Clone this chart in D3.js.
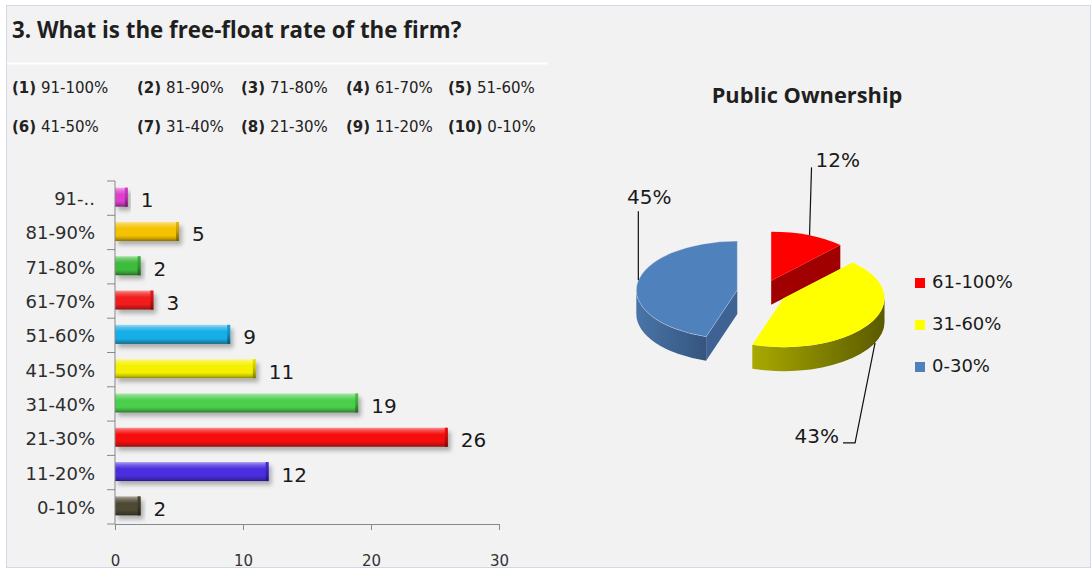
<!DOCTYPE html>
<html>
<head>
<meta charset="utf-8">
<script src="https://cdn.jsdelivr.net/npm/d3@7"></script>
<style>
html, body { margin: 0; padding: 0; background: #fff; }
svg { display: block; }
</style>
</head>
<body>
<svg id="chart" width="1092" height="570"></svg>
<script>
// ----- data ---------------------------------------------------------------
const title = "3. What is the free-float rate of the firm?";
const optionLabels = ["91-100%", "81-90%", "71-80%", "61-70%", "51-60%",
                      "41-50%", "31-40%", "21-30%", "11-20%", "0-10%"];

const categories = ["91-..", "81-90%", "71-80%", "61-70%", "51-60%",
                    "41-50%", "31-40%", "21-30%", "11-20%", "0-10%"];
const counts = [1, 5, 2, 3, 9, 11, 19, 26, 12, 2];
const barColors = ["#dd3fcf", "#f4c200", "#3dbb3d", "#f21c1c", "#19aee6",
                   "#f5f000", "#4ccf4c", "#f51010", "#4b2ee0", "#4d4934"];
const xTicks = [0, 10, 20, 30];

const pieTitle = "Public Ownership";
const pieGroups = ["61-100%", "31-60%", "0-30%"];
const pieShares = [12, 43, 45];
const pieTop = ["#ff0000", "#ffff00", "#4f81bd"];
const pieSide = [["#b00000", "#900000"], ["#a9a900", "#5a5a00"], ["#4a74a8", "#35557f"]];
const pieFace = ["#a00000", "#8c8c00", "#3e6293"];

// ----- setup ----------------------------------------------------------------
const svg = d3.select("#chart");
const defs = svg.append("defs");
const FONT = "'DejaVu Sans', Verdana, sans-serif";
const TITLE_FONT = "'Open Sans', Lato, sans-serif";

const shadow = defs.append("filter").attr("id", "shadow")
    .attr("x", "-10%").attr("y", "-30%").attr("width", "130%").attr("height", "190%");
shadow.append("feDropShadow").attr("dx", 3).attr("dy", 4).attr("stdDeviation", 2)
    .attr("flood-color", "#000").attr("flood-opacity", 0.28);

// panel
svg.append("rect").attr("x", 6.5).attr("y", 5.5).attr("width", 1084).attr("height", 562)
    .attr("fill", "#f2f2f2").attr("stroke", "#d5d7e6");

// title + separator
svg.append("text").attr("x", 12).attr("y", 38)
    .attr("font-family", TITLE_FONT).attr("font-weight", "bold").attr("font-size", 22.3)
    .attr("fill", "#1f1f1f").text(title);
svg.append("line").attr("x1", 7).attr("x2", 548).attr("y1", 63.5).attr("y2", 63.5)
    .attr("stroke", "#fff").attr("stroke-width", 2);

// option key, two rows of five
const optCols = [12, 137, 241, 346, 448];
const optRows = [93, 132];
optionLabels.forEach((o, i) => {
    const t = svg.append("text")
        .attr("x", optCols[i % 5]).attr("y", optRows[Math.floor(i / 5)])
        .attr("font-family", FONT).attr("font-size", 15).attr("fill", "#222");
    t.append("tspan").attr("font-weight", "bold").text(`(${i + 1})`);
    t.append("tspan").text(" " + o);
});

// ----- bar chart ----------------------------------------------------------
const x = d3.scaleLinear().domain([0, 30]).range([115, 499]);
const y = d3.scaleBand().domain(categories).range([181, 524])
    .paddingInner(0.446).paddingOuter(0.223);

const lighten = (c, t) => d3.interpolateRgb(c, "#fff")(t);
const darken = (c, t) => d3.interpolateRgb(c, "#000")(t);

barColors.forEach((c, i) => {
    const g = defs.append("linearGradient").attr("id", "bar" + i)
        .attr("x1", 0).attr("y1", 0).attr("x2", 0).attr("y2", 1);
    [[0, lighten(c, 0.55)], [0.14, lighten(c, 0.25)], [0.35, c], [0.72, c],
     [0.9, darken(c, 0.22)], [1, darken(c, 0.45)]].forEach(([o, col]) =>
        g.append("stop").attr("offset", o).attr("stop-color", col));
    const e = defs.append("linearGradient").attr("id", "cap" + i)
        .attr("x1", 0).attr("y1", 0).attr("x2", 0).attr("y2", 1);
    [[0, darken(c, 0.05)], [0.5, darken(c, 0.2)], [1, darken(c, 0.5)]].forEach(([o, col]) =>
        e.append("stop").attr("offset", o).attr("stop-color", col));
});

const bars = svg.append("g");
const barData = categories.map((c, i) => ({ cat: c, v: counts[i], i }));

bars.selectAll("rect.bar").data(barData).join("rect").attr("class", "bar")
    .attr("x", x(0)).attr("y", d => y(d.cat) - 1)
    .attr("width", d => x(d.v) - x(0)).attr("height", y.bandwidth())
    .attr("fill", d => `url(#bar${d.i})`).attr("filter", "url(#shadow)");

bars.selectAll("rect.cap").data(barData).join("rect").attr("class", "cap")
    .attr("x", d => x(d.v) - 3).attr("y", d => y(d.cat) - 1)
    .attr("width", 3).attr("height", y.bandwidth())
    .attr("fill", d => `url(#cap${d.i})`);

bars.selectAll("text.val").data(barData).join("text").attr("class", "val")
    .attr("x", d => x(d.v) + 13).attr("y", d => y(d.cat) + y.bandwidth() / 2 + 9)
    .attr("font-family", FONT).attr("font-size", 20).attr("fill", "#1a1a1a")
    .text(d => d.v);

// y axis with ticks on the band boundaries
const axisCol = "#888";
const yAxis = svg.append("g");
yAxis.append("line").attr("x1", x(0)).attr("x2", x(0))
    .attr("y1", y.range()[0]).attr("y2", y.range()[1]).attr("stroke", axisCol);
yAxis.selectAll("line.tick").data(d3.range(categories.length + 1)).join("line")
    .attr("class", "tick")
    .attr("x1", x(0) - 8).attr("x2", x(0))
    .attr("y1", k => y.range()[0] + k * y.step()).attr("y2", k => y.range()[0] + k * y.step())
    .attr("stroke", axisCol);
yAxis.selectAll("text").data(categories).join("text")
    .attr("x", 95).attr("y", d => y(d) + y.bandwidth() / 2 + 7)
    .attr("text-anchor", "end").attr("font-family", FONT).attr("font-size", 18)
    .attr("fill", "#2d2d2d").text(d => d);

// x axis
const xAxis = svg.append("g").attr("transform", `translate(0,${y.range()[1]})`)
    .call(d3.axisBottom(x).tickValues(xTicks).tickSizeInner(6).tickSizeOuter(0).tickPadding(25));
xAxis.select(".domain").attr("stroke", axisCol);
xAxis.selectAll(".tick line").attr("stroke", axisCol);
xAxis.selectAll(".tick text").attr("font-family", FONT).attr("font-size", 15).attr("fill", "#333");

// ----- 3D pie -----------------------------------------------------------------
svg.append("text").attr("x", 807).attr("y", 103).attr("text-anchor", "middle")
    .attr("font-family", TITLE_FONT).attr("font-weight", "bold").attr("font-size", 21.8)
    .attr("fill", "#1f1f1f").text(pieTitle);

const P = { cx: 762, cy: 292, rx: 101, ry: 49, depth: 24, explode: 25 };
const arcs = d3.pie().sort(null).value(d => d)(pieShares);

const centerOf = a => {
    const m = (a.startAngle + a.endAngle) / 2;
    return [P.cx + P.explode * Math.sin(m), P.cy - P.explode * (P.ry / P.rx) * Math.cos(m)];
};
const pt = (c, t, dy = 0) => [c[0] + P.rx * Math.sin(t), c[1] - P.ry * Math.cos(t) + dy];
const arcTo = (p, large, sweep) => `A${P.rx},${P.ry} 0 ${large} ${sweep} ${p[0]},${p[1]}`;

const pieG = svg.append("g");
const paintOrder = [0, 2, 1];

paintOrder.forEach(i => {
    const a = arcs[i];
    const c = centerOf(a);
    const a0 = a.startAngle, a1 = a.endAngle, d = P.depth;
    const sg = pieG.append("g");

    // outer rim, front half only
    const s = Math.max(a0, Math.PI / 2), e = Math.min(a1, 3 * Math.PI / 2);
    if (s < e) {
        const gid = "side" + i;
        const lg = defs.append("linearGradient").attr("id", gid)
            .attr("gradientUnits", "userSpaceOnUse")
            .attr("x1", pt(c, e)[0]).attr("x2", pt(c, s)[0]).attr("y1", 0).attr("y2", 0);
        lg.append("stop").attr("offset", 0).attr("stop-color", pieSide[i][0]);
        lg.append("stop").attr("offset", 1).attr("stop-color", pieSide[i][1]);
        const p1 = pt(c, s), p2 = pt(c, e), p3 = pt(c, e, d), p4 = pt(c, s, d);
        sg.append("path")
            .attr("d", `M${p1} ${arcTo(p2, 0, 1)} L${p3} ${arcTo(p4, 0, 0)} Z`)
            .attr("fill", `url(#${gid})`);
    }
    // radial cut faces facing the viewer
    const face = t => {
        const p = pt(c, t);
        sg.append("path")
            .attr("d", `M${c} L${p} L${p[0]},${p[1] + d} L${c[0]},${c[1] + d} Z`)
            .attr("fill", pieFace[i]);
    };
    if (Math.sin(a0) < -1e-6) face(a0);
    if (Math.sin(a1) > 1e-6) face(a1);

    // top face
    sg.append("path")
        .attr("d", `M${c} L${pt(c, a0)} ${arcTo(pt(c, a1), a1 - a0 > Math.PI ? 1 : 0, 1)} Z`)
        .attr("fill", pieTop[i])
        .attr("stroke", i === 2 ? "rgba(255,255,255,0.35)" : "none").attr("stroke-width", 0.8);
});

// percentage labels with leader lines
const deg = Math.PI / 180;
const labelLayout = [
    { angle: 22.3 * deg, side: false, path: [[2, -68]], tx: 6, ty: -68, anchor: "start" },
    { angle: 115 * deg, side: true, path: [[-20, 100], [-32, 100]], tx: -36, ty: 100, anchor: "end" },
    { angle: 281.5 * deg, side: false, path: [[0, -69]], tx: 11, ty: -76, anchor: "middle" }
];
const pctTotal = d3.sum(pieShares);
arcs.forEach((a, i) => {
    const L = labelLayout[i];
    const A = pt(centerOf(a), L.angle, L.side ? P.depth : 0);
    const pts = [A, ...L.path.map(([dx, dy]) => [A[0] + dx, A[1] + dy])];
    svg.append("path").attr("d", d3.line()(pts))
        .attr("fill", "none").attr("stroke", "#111").attr("stroke-width", 1.2);
    svg.append("text").attr("x", A[0] + L.tx).attr("y", A[1] + L.ty)
        .attr("text-anchor", L.anchor).attr("font-family", FONT).attr("font-size", 20)
        .attr("fill", "#1a1a1a").text(Math.round(a.data / pctTotal * 100) + "%");
});

// legend
const leg = svg.append("g");
pieGroups.forEach((gname, i) => {
    const yy = 278 + i * 42;
    leg.append("rect").attr("x", 915).attr("y", yy).attr("width", 10).attr("height", 10)
        .attr("fill", pieTop[i]);
    leg.append("text").attr("x", 932).attr("y", yy + 10)
        .attr("font-family", FONT).attr("font-size", 18).attr("fill", "#1a1a1a").text(gname);
});
</script>
</body>
</html>
